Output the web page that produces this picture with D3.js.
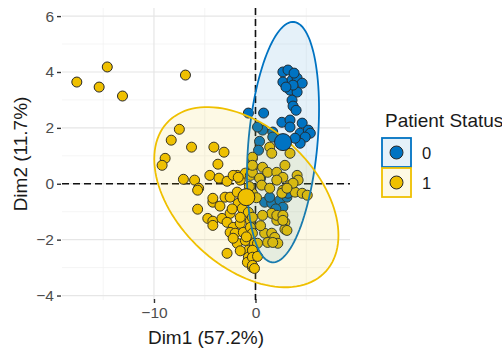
<!DOCTYPE html>
<html lang="en">
<head>
  <meta charset="UTF-8">
  <title>PCA individuals</title>
  <script type="text/javascript" src="https://cdn.jsdelivr.net/npm/d3@7/dist/d3.min.js"></script>
  <style type="text/css">
    * {
      margin: 0;
      padding: 0;
    }

    html, body {
      width: 100%;
      height: 100%;
      background-color: #fff;
    }

    text {
      font-family: "Liberation Sans", Arial, sans-serif;
    }
  </style>
</head>

<body>
<div id="box"></div>
</body>
<script type="text/javascript">
  // data (Dim1, Dim2 per patient)
  var status0_dim1 = [2.7, 3.2, 2.7, 3.6, 4.1, 4.6, 3.4, 4.1, 3.7, 3.0, 3.8,
    3.6, 3.7, 4.0,
    -0.7, 0.8, 2.6, 3.4, 4.6, 3.4, 4.4, 5.2, 5.4, 4.9, 1.7, 0.7, 1.7, 0.4, 4.4, 3.9, 0.2, 0.3,
    0.9, 1.6, 2.4, 3.1, 2.7, 3.2, 1.4, 2.0, 0.5]
  var status0_dim2 = [4.0, 4.07, 3.64, 3.71, 3.78, 3.6, 3.35, 3.28, 3.53, 3.46, 3.96,
    2.99, 2.78, 2.63,
    2.53, 2.53, 2.2, 2.28, 2.17, 2.03, 1.81, 1.92, 1.81, 1.67, 1.85, 1.92, 1.67, 1.52, 1.45, 1.63, 2.03, 1.2,
    -0.66, -0.7, -0.59, -0.48, -0.84, -0.34, -0.48, -0.9, 0.2]

  var status1_dim1 = [-17.6, -15.4, -14.6, -13.1, -6.9, -7.5, -8.3, -6.3, -4.1, -3.1, -8.9, -9.2, -3.7,
    -4.5, -7.1, -6.0, -5.6, -3.6, -2.8, -1.5, -1.8, -1.0, -5.7, -3.0, -4.2, -5.7, -4.7, -4.2, -4.2,
    -3.3, -2.5, -2.8, -2.2, -2.5, -2.0, -1.5, -1.2, -1.8, -1.0, -2.8, -0.7, -0.7, -0.8, -0.3,
    -1.7, -1.3, -0.7, -1.5, -0.5, -0.5, -2.2, -0.3, -0.1, -0.3, -2.2, -1.7, -0.5, -0.3, -0.3,
    -0.3, -4.2, -2.5,
    1.4, 1.6, 3.4, 2.9, 4.1, 4.2, 0.7, 1.2, 2.1, 2.7, 2.1, 0.4, -0.3, -0.3, 0.6, 1.4, 2.7, 3.4,
    3.9, -0.3, 1.6, 2.1, 2.9, 2.9, 0.9, 1.6, 1.9, 1.2, 2.2, 0.2, -0.3, -0.3, -0.3, -0.1, 4.6,
    5.1, 0.7, 2.1, 2.7, 3.7, 2.6, 3.1, 2.7, 3.1, 1.7,
    -0.6, 0.1, -0.3, 0.5, -1.8, -2.3, -3.5, -0.9, -1.5, 0.2]
  var status1_dim2 = [3.64, 3.46, 4.18, 3.14, 3.89, 1.95, 1.56, 1.31, 1.31, 1.13, 0.91, 0.66, 0.7,
    0.3, 0.16, 0.13, -0.16, 0.2, 0.09, 0.13, 0.3, 0.38, -0.23, -0.48, -0.66, -0.91, -1.24, -1.34, -1.49,
    -1.24, -1.06, -1.38, -1.56, -1.74, -1.77, -1.42, -1.74, -2.13, -2.03, -2.49, -2.38, -2.63, -2.81, -2.99,
    -0.7, -0.88, -1.02, -1.2, -1.31, -1.56, -1.95, -1.77, -2.13, -2.38, 0.3, 0.23, 0.3, 0.59, 0.91,
    0.41, -0.52, -0.48,
    1.31, 1.09, 1.09, 0.66, 0.3, 0.13, 0.59, 0.41, 0.41, 0.23, 0.13, 0.2, 0.95, 0.66, -0.05, -0.16, -0.23, -0.05,
    -0.3, -0.34, -1.06, -1.31, -1.38, -1.63, -1.77, -1.77, -1.92, -2.1, -2.13, -2.13, -2.38, -2.63, -2.92, -3.03, -0.34,
    -0.41, -1.13, -1.13, -1.13, 0.02, -0.34, -0.16, -1.31, -1.67, -2.1,
    -0.1, -0.5, -1.2, -1.5, -0.3, -0.9, -0.8, -1.9, -2.4, -2.6]

  // group means and ellipse shape (centre, var x, var y, cov xy)
  var groups = ['0', '1']
  var groupColors = ['#0073C2', '#EFC000']
  var meanDim1 = [2.71, -0.9]
  var meanDim2 = [1.49, -0.48]
  var ellipseVarX = [12.6, 82.3]
  var ellipseVarY = [18.5, 10.4]
  var ellipseCov = [4.21, -12.4]

  var xMajor = [-10, 0]
  var xMinor = [-15, -5, 5]
  var yMajor = [-4, -2, 0, 2, 4, 6]
  var yMinor = [-3, -1, 1, 3, 5]

  var width = 502
  var height = 363
  var svg = d3.select('#box')
    .append('svg')
    .attr('width', width)
    .attr('height', height)

  var pLeft = 62, pRight = 350, pTop = 8, pBottom = 300
  var x = d3.scaleLinear().domain([-19.06, 9.31]).range([pLeft, pRight])
  var y = d3.scaleLinear().domain([-4.16, 6.29]).range([pBottom, pTop])

  // grid
  var grid = svg.append('g')
  grid.selectAll('.vmin').data(xMinor).enter().append('line')
    .attr('x1', d => x(d)).attr('x2', d => x(d)).attr('y1', pTop).attr('y2', pBottom)
    .attr('stroke', '#f2f2f2').attr('stroke-width', 0.8)
  grid.selectAll('.hmin').data(yMinor).enter().append('line')
    .attr('x1', pLeft).attr('x2', pRight).attr('y1', d => y(d)).attr('y2', d => y(d))
    .attr('stroke', '#f2f2f2').attr('stroke-width', 0.8)
  grid.selectAll('.vmaj').data(xMajor).enter().append('line')
    .attr('x1', d => x(d)).attr('x2', d => x(d)).attr('y1', pTop).attr('y2', pBottom)
    .attr('stroke', '#e6e6e6').attr('stroke-width', 1.2)
  grid.selectAll('.hmaj').data(yMajor).enter().append('line')
    .attr('x1', pLeft).attr('x2', pRight).attr('y1', d => y(d)).attr('y2', d => y(d))
    .attr('stroke', '#e6e6e6').attr('stroke-width', 1.2)

  // axes
  var xaxis = d3.axisBottom(x).tickValues(xMajor).tickSize(4).tickPadding(4)
  var yaxis = d3.axisLeft(y).tickValues(yMajor).tickSize(4).tickPadding(3)
  var gx = svg.append('g').attr('transform', 'translate(0,' + (pBottom - 1) + ')').call(xaxis)
  var gy = svg.append('g').attr('transform', 'translate(' + (pLeft - 1) + ',0)').call(yaxis)
  ;[gx, gy].forEach(function (g) {
    g.select('.domain').remove()
    g.selectAll('line').attr('stroke', '#333').attr('stroke-width', 1.4)
    g.selectAll('text').attr('fill', '#4d4d4d').style('font-size', '15.5px')
      .style('font-family', '"Liberation Sans", Arial, sans-serif')
  })

  // dashed zero lines
  svg.append('line').attr('x1', x(0)).attr('x2', x(0)).attr('y1', pTop).attr('y2', pBottom)
    .attr('stroke', '#111').attr('stroke-width', 1.6).attr('stroke-dasharray', '7,4')
  svg.append('line').attr('x1', pLeft).attr('x2', pRight).attr('y1', y(0)).attr('y2', y(0))
    .attr('stroke', '#111').attr('stroke-width', 1.6).attr('stroke-dasharray', '7,4')

  // points
  var sets = [
    d3.zip(status0_dim1, status0_dim2),
    d3.zip(status1_dim1, status1_dim2)
  ]
  sets.forEach(function (pts, i) {
    svg.append('g').selectAll('circle').data(pts).enter().append('circle')
      .attr('cx', d => x(d[0])).attr('cy', d => y(d[1])).attr('r', 5)
      .attr('fill', groupColors[i]).attr('stroke', '#262626').attr('stroke-width', 1)
  })

  // ellipses
  var line = d3.line().x(d => x(d[0])).y(d => y(d[1]))
  groups.forEach(function (g, i) {
    var a = Math.sqrt(ellipseVarX[i])
    var c = ellipseCov[i] / a
    var b = Math.sqrt(ellipseVarY[i] - c * c)
    var pts = d3.range(0, 361, 3).map(function (deg) {
      var t = deg * Math.PI / 180
      return [meanDim1[i] + a * Math.cos(t), meanDim2[i] + c * Math.cos(t) + b * Math.sin(t)]
    })
    svg.append('path').attr('d', line(pts) + 'Z')
      .attr('fill', groupColors[i]).attr('fill-opacity', 0.1)
      .attr('stroke', groupColors[i]).attr('stroke-width', 1.8)
  })

  // group means
  groups.forEach(function (g, i) {
    svg.append('circle').attr('cx', x(meanDim1[i])).attr('cy', y(meanDim2[i])).attr('r', 8.5)
      .attr('fill', groupColors[i]).attr('stroke', '#262626').attr('stroke-width', 1)
  })

  // axis titles
  svg.append('text').attr('x', (pLeft + pRight) / 2).attr('y', 344)
    .attr('text-anchor', 'middle').style('font-size', '19px').attr('fill', '#1a1a1a')
    .text('Dim1 (57.2%)')
  svg.append('text').attr('transform', 'translate(27,' + (pTop + pBottom) / 2 + ') rotate(-90)')
    .attr('text-anchor', 'middle').style('font-size', '19px').attr('fill', '#1a1a1a')
    .text('Dim2 (11.7%)')

  // legend
  var legend = svg.append('g')
  legend.append('text').attr('x', 385).attr('y', 127).style('font-size', '19px').attr('fill', '#1a1a1a')
    .text('Patient Status')
  groups.forEach(function (g, i) {
    var ky = 138 + i * 30
    legend.append('rect').attr('x', 382).attr('y', ky).attr('width', 29).attr('height', 29)
      .attr('fill', groupColors[i]).attr('fill-opacity', 0.1)
      .attr('stroke', groupColors[i]).attr('stroke-width', 1.8)
    legend.append('circle').attr('cx', 396.5).attr('cy', ky + 14.5).attr('r', 6.5)
      .attr('fill', groupColors[i]).attr('stroke', '#262626').attr('stroke-width', 1)
    legend.append('text').attr('x', 422).attr('y', ky + 20.5).style('font-size', '16.5px')
      .attr('fill', '#1a1a1a').text(g)
  })
</script>
</html>
